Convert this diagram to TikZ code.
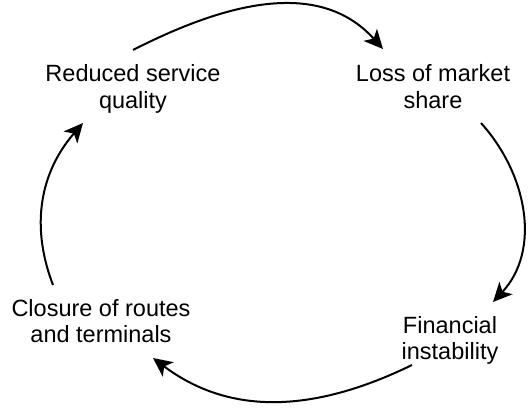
\documentclass[tikz,border=0pt]{standalone}
\usepackage{fontspec}
\setmainfont{Liberation Sans}
\usetikzlibrary{arrows.meta}

\begin{document}
\begin{tikzpicture}[x=1pt,y=1pt,
		stagebox/.style={align=center,inner sep=0pt,font=\fontsize{23.5}{26.5}\selectfont},
		cycarrow/.style={line width=2pt,-{Stealth[length=19pt,width=18pt,inset=5pt]}}]
		
		\useasboundingbox (0,0) rectangle (532,407);
		
		% Stages of the cycle
		\node[stagebox] (rsq) at (133,318) {Reduced service\\quality};
		\node[stagebox] (lms) at (433,320.4) {Loss of market\\share};
		\node[stagebox] (fin) at (450,66.5) {Financial\\instability};
		\node[stagebox] (crt) at (101,86) {Closure of routes\\and terminals};
		
		% Arrows round the cycle
		\draw[cycarrow] ([shift={(0,39)}]rsq.center) to[out=27,in=132] ([shift={(-50,37.6)}]lms.center);
		\draw[cycarrow] ([shift={(48,-36.4)}]lms.center) to[out=-48,in=47] ([shift={(43,38.5)}]fin.center);
		\draw[cycarrow] ([shift={(-38,-24.5)}]fin.center) to[out=206,in=-37] ([shift={(52,-37)}]crt.center);
		\draw[cycarrow] ([shift={(-48,36)}]crt.center) to[out=111,in=-131] ([shift={(-50,-34)}]rsq.center);
		
\end{tikzpicture}
\end{document}
